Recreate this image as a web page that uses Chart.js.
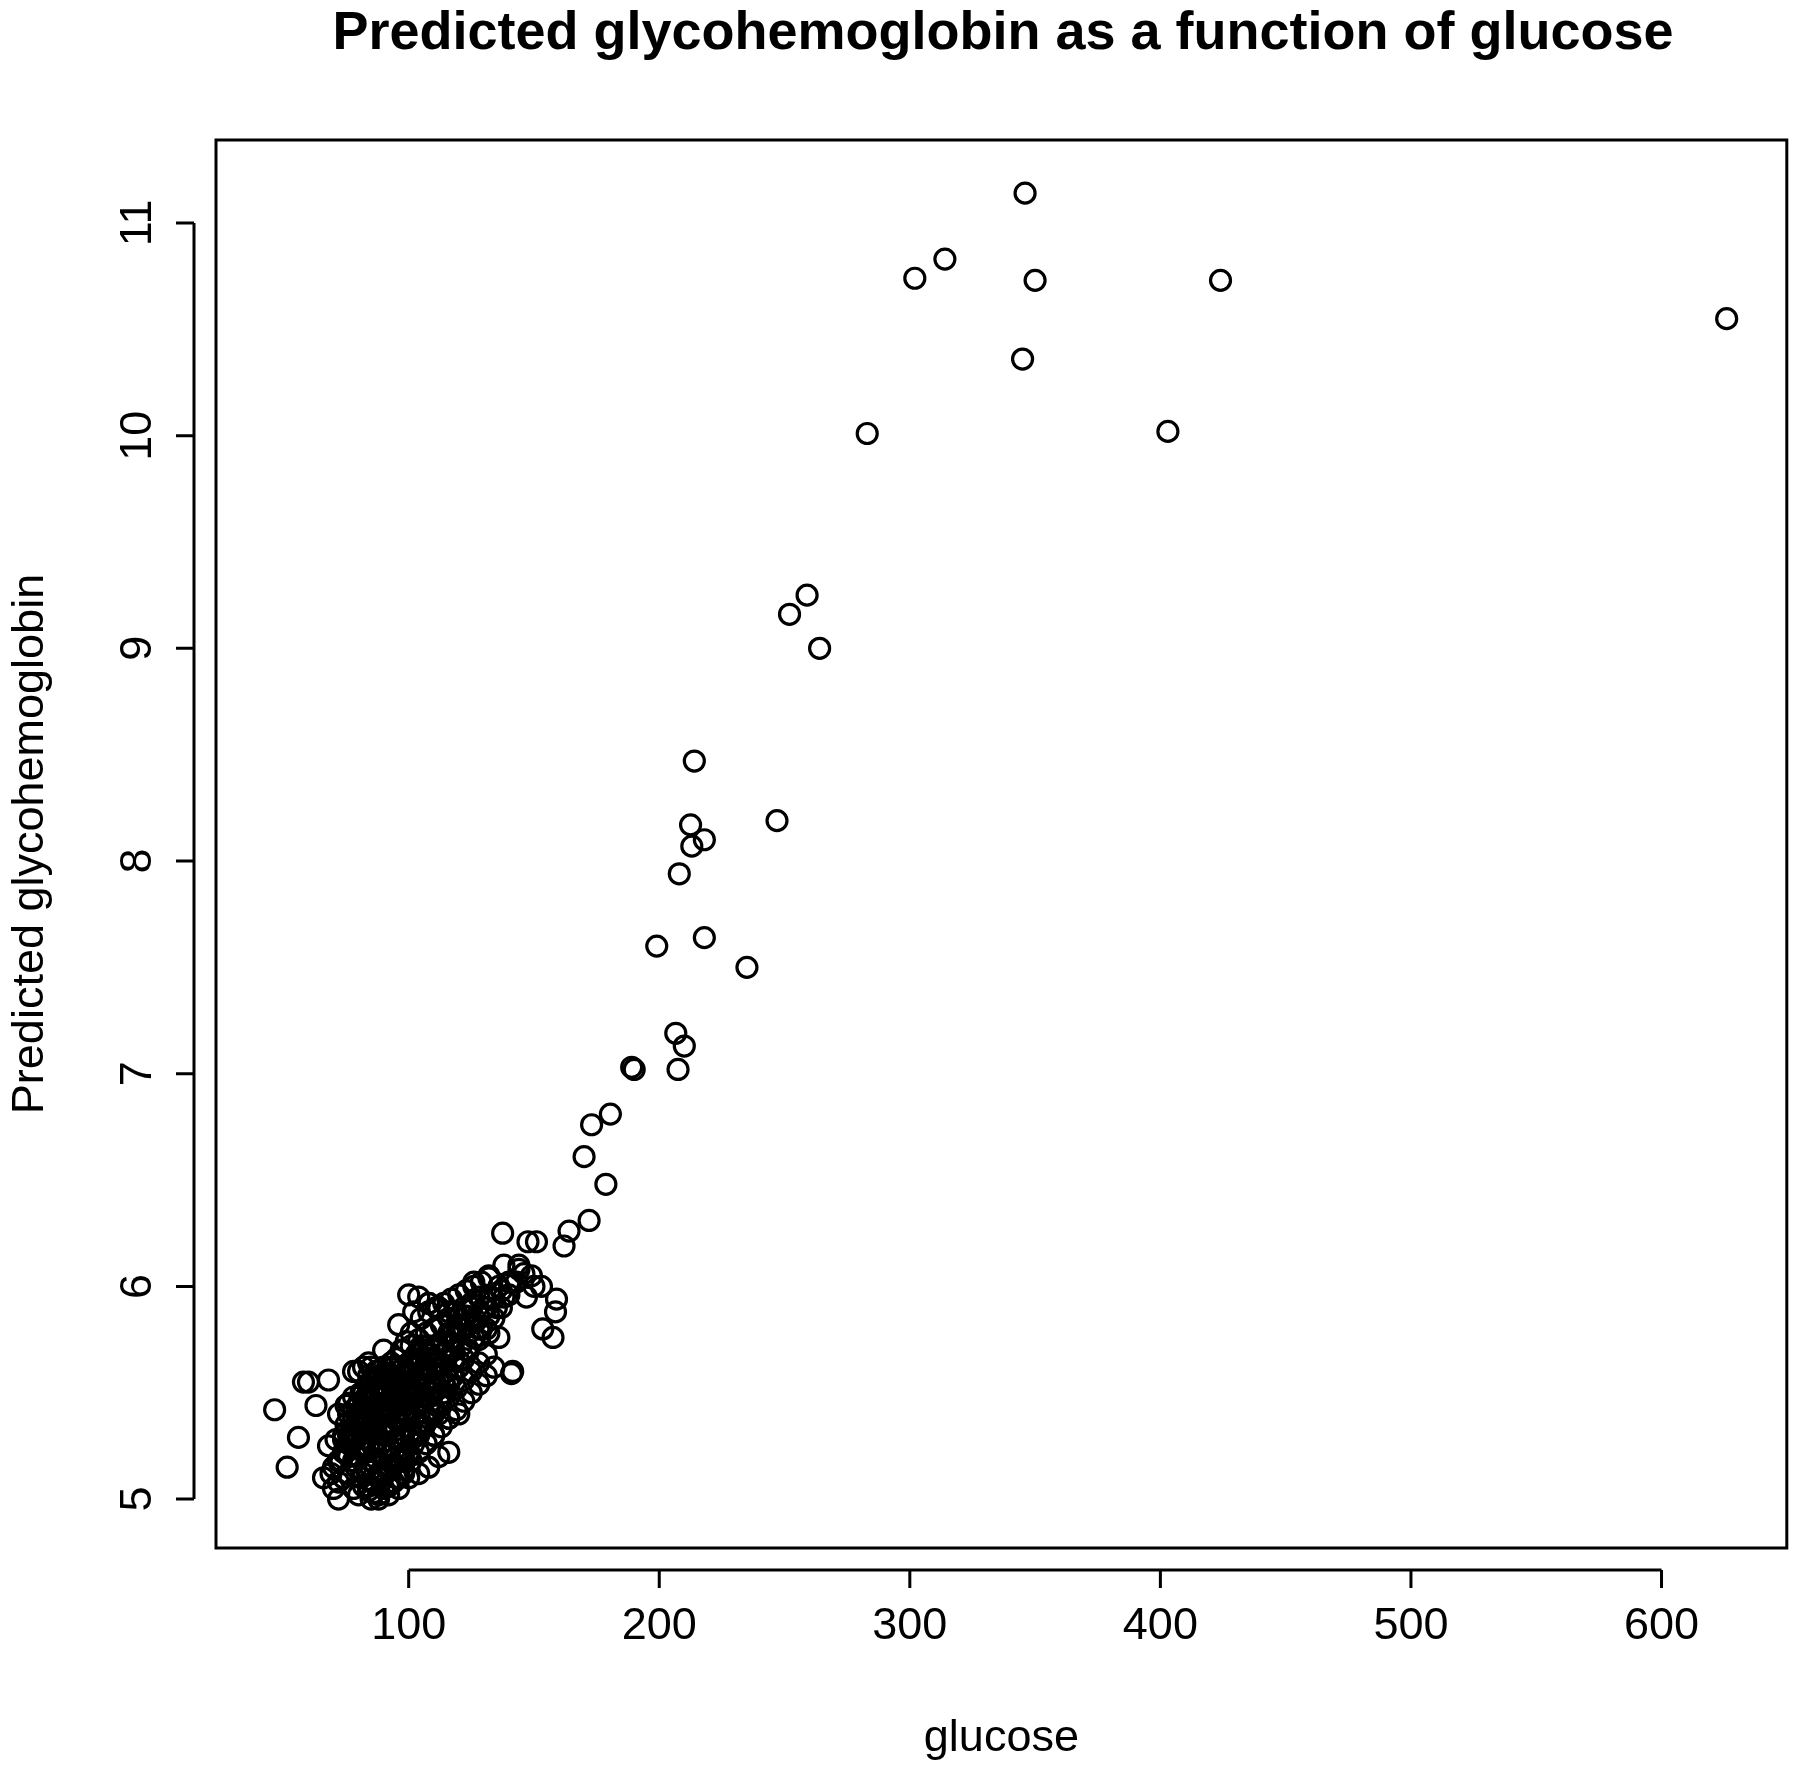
<!DOCTYPE html>
<html><head><meta charset="utf-8">
<script src="https://cdn.jsdelivr.net/npm/chart.js@4"></script>
<style>html,body{margin:0;padding:0;background:#fff}#w{width:1800px;height:1777px}</style>
</head><body><div id="w"><canvas id="c" width="1800" height="1777"></canvas></div>
<script>
const xTicks=[100,200,300,400,500,600];
const yTicks=[5,6,7,8,9,10,11];
const outlierX=[346,314,302,350,424,626,345,283,403,259,252,264,214,247,212.5,218,213,208,199,218,235,206.6,210,207.5,189,190,180.5,173,170,178.7,172,164,162,137.5,147.6,151,159,158.6,157.6,153.5,141,141.5,46.5,51.5,58,56,72,60,63,68];
const outlierY=[11.14,10.83,10.74,10.73,10.73,10.55,10.36,10.01,10.02,9.25,9.16,9.0,8.47,8.19,8.17,8.10,8.07,7.94,7.60,7.64,7.50,7.19,7.13,7.02,7.03,7.02,6.81,6.76,6.61,6.48,6.31,6.26,6.19,6.25,6.21,6.21,5.94,5.88,5.76,5.80,5.59,5.60,5.42,5.15,5.55,5.29,5.0,5.55,5.44,5.56];
const clusterX=[70,72,74,76,78,80,82,84,86,88,90,92,94,96,98,
70,73,76,79,82,85,88,91,94,97,100,
68,71,74,77,80,83,86,89,92,95,98,101,104,
75,78,81,84,87,90,93,96,99,102,105,108,
80,83,86,89,92,95,98,101,104,107,110,113,
85,88,91,94,97,100,103,106,109,112,115,118,
90,93,96,99,102,105,108,111,114,117,120,123,
98,101,104,107,110,113,116,119,122,125,128,
105,108,111,114,117,120,123,126,129,132,
112,115,118,121,124,127,130,133,136,
120,123,126,129,132,135,138,141,144,
128,131,134,137,140,143,146,149,
80,84,88,92,96,100,104,108,112,116,120,
76,82,86,90,94,98,102,106,110,
66,69,72,75,78,81,84,87,90,
100,104,108,112,116,120,124,128,132,136,
85,88,92,96,100,104,108,112,116,
147,150,153,144,138,132,126,120,114,108,102,96,90,84,78,
81,83,85,87,89,91,93,95,97,99,101,103,105,107,109,
79,81,83,85,87,89,91,93,95,97,99,101,103,105,
77,79,81,83,85,87,89,91,93,95,97,99,101,
74,77,80,83,86,89,92,95,98,101,104,107,110,113,116,119,122,125,
86,89,92,95,98,101,104,107,110,113,116,119,122,125,128,131,
95,98,101,104,107,110,113,116,119,122,125,128,131,134,
82,85,88,91,94,97,100,103,106,109,
72,75,78,81,84,87,90,93,96,
107,110,113,116,119,122,125,128,131,134,137,140,
78,80,82,84,86,88,90,92,94,96,98,100,102,104,106,108,110,112,114,116,
76,78,80,82,84,86,88,90,92,94,96,98,100,102,104,106,108,
84,86,88,90,92,94,96,98,100,102,104,106,108,110,112,114,116,118,120,122,124,
74,76,78,80,82,84,86,88,90,92,94,96];
const clusterY=[5.05,5.08,5.1,5.12,5.05,5.02,5.06,5.04,5.03,5.02,5.05,5.06,5.08,5.1,5.12,
5.15,5.18,5.2,5.15,5.12,5.14,5.12,5.15,5.16,5.18,5.2,
5.25,5.28,5.3,5.27,5.25,5.22,5.24,5.22,5.25,5.28,5.3,5.32,5.35,
5.35,5.38,5.36,5.33,5.32,5.34,5.36,5.38,5.4,5.42,5.45,5.48,
5.45,5.48,5.46,5.43,5.42,5.44,5.46,5.48,5.5,5.52,5.55,5.58,
5.55,5.58,5.56,5.53,5.52,5.54,5.56,5.58,5.6,5.62,5.66,5.7,
5.62,5.64,5.62,5.6,5.62,5.65,5.68,5.7,5.74,5.78,5.82,5.86,
5.7,5.72,5.75,5.78,5.8,5.82,5.85,5.88,5.9,5.92,5.95,
5.85,5.88,5.9,5.92,5.94,5.96,5.98,6.0,6.02,6.04,
5.55,5.6,5.66,5.72,5.78,5.84,5.9,5.95,6.0,
5.65,5.7,5.76,5.8,5.86,5.9,5.95,6.02,6.08,
5.75,5.8,5.85,5.9,5.96,6.02,6.06,6.05,
5.6,5.58,5.6,5.55,5.5,5.48,5.45,5.42,5.4,5.38,5.4,
5.45,5.5,5.52,5.5,5.45,5.4,5.38,5.34,5.3,
5.1,5.12,5.18,5.22,5.3,5.4,5.5,5.6,5.58,
5.96,5.95,5.92,5.9,5.88,5.85,5.82,5.8,5.78,5.76,
5.0,5.0,5.02,5.05,5.1,5.12,5.15,5.2,5.22,
5.95,6.0,6.0,6.1,6.1,6.05,6.02,5.65,5.55,5.92,5.88,5.82,5.7,5.64,5.6,
5.1,5.14,5.18,5.22,5.26,5.3,5.34,5.38,5.42,5.46,5.5,5.54,5.58,5.62,5.66,
5.2,5.24,5.28,5.32,5.36,5.4,5.44,5.48,5.52,5.56,5.6,5.64,5.68,5.72,
5.3,5.34,5.38,5.42,5.46,5.5,5.54,5.58,5.62,5.66,5.7,5.74,5.78,
5.22,5.26,5.3,5.34,5.38,5.42,5.46,5.5,5.54,5.58,5.62,5.66,5.7,5.74,5.78,5.82,5.86,5.9,
5.08,5.12,5.16,5.2,5.24,5.28,5.32,5.36,5.4,5.44,5.48,5.52,5.56,5.6,5.64,5.68,
5.1,5.14,5.18,5.22,5.26,5.3,5.34,5.38,5.42,5.46,5.5,5.54,5.58,5.62,
5.62,5.62,5.6,5.58,5.56,5.54,5.52,5.5,5.48,5.46,
5.4,5.44,5.48,5.5,5.52,5.5,5.48,5.46,5.44,
5.62,5.64,5.68,5.72,5.76,5.8,5.84,5.86,5.9,5.94,5.98,6.02,
5.18,5.2,5.22,5.24,5.26,5.28,5.3,5.32,5.34,5.36,5.38,5.4,5.42,5.44,5.46,5.48,5.5,5.52,5.54,5.56,
5.4,5.42,5.44,5.46,5.48,5.5,5.52,5.54,5.56,5.58,5.6,5.62,5.64,5.66,5.68,5.7,5.72,
5.06,5.08,5.1,5.12,5.14,5.16,5.18,5.2,5.22,5.26,5.3,5.34,5.38,5.42,5.46,5.5,5.54,5.58,5.62,5.66,5.7,
5.28,5.3,5.32,5.34,5.36,5.38,5.4,5.42,5.44,5.46,5.48,5.5];
const pts=[];
clusterX.forEach((x,i)=>pts.push({x,y:clusterY[i]}));
outlierX.forEach((x,i)=>pts.push({x,y:outlierY[i]}));
const F='"Liberation Sans", Arial, sans-serif';
const axesPlugin={id:'rAxes',afterDraw(ch){
 const c=ch.ctx,a=ch.chartArea,xs=ch.scales.x,ys=ch.scales.y;
 c.save();c.strokeStyle='#000';c.lineWidth=3;c.fillStyle='#000';
 c.strokeRect(a.left,a.top,a.right-a.left,a.bottom-a.top);
 c.font='45px '+F;c.textAlign='center';c.textBaseline='top';
 const x0=xs.getPixelForValue(xTicks[0]),x1=xs.getPixelForValue(xTicks[xTicks.length-1]);
 c.beginPath();c.moveTo(x0,a.bottom+22);c.lineTo(x1,a.bottom+22);
 xTicks.forEach(t=>{const p=xs.getPixelForValue(t);c.moveTo(p,a.bottom+22);c.lineTo(p,a.bottom+40);});
 c.stroke();
 xTicks.forEach(t=>c.fillText(String(t),xs.getPixelForValue(t),a.bottom+56));
 const y0=ys.getPixelForValue(yTicks[0]),y1=ys.getPixelForValue(yTicks[yTicks.length-1]);
 c.beginPath();c.moveTo(a.left-22,y0);c.lineTo(a.left-22,y1);
 yTicks.forEach(t=>{const p=ys.getPixelForValue(t);c.moveTo(a.left-22,p);c.lineTo(a.left-40,p);});
 c.stroke();
 yTicks.forEach(t=>{const p=ys.getPixelForValue(t);c.save();c.translate(a.left-100,p);c.rotate(-Math.PI/2);c.textBaseline='top';c.fillText(String(t),0,0);c.restore();});
 c.fillText('glucose',(a.left+a.right)/2,1716);
 c.save();c.translate(8,(a.top+a.bottom)/2);c.rotate(-Math.PI/2);c.textBaseline='top';c.fillText('Predicted glycohemoglobin',0,0);c.restore();
 c.font='bold 54px '+F;c.textBaseline='middle';c.fillText('Predicted glycohemoglobin as a function of glucose',1003,34);
 c.restore();}};
new Chart(document.getElementById('c'),{type:'scatter',
 data:{datasets:[{data:pts,pointStyle:'circle',pointRadius:10,pointBorderWidth:3.2,borderColor:'#000',backgroundColor:'rgba(0,0,0,0)'}]},
 options:{responsive:false,animation:false,events:[],
  layout:{padding:{left:216,right:11,top:140,bottom:229}},
  plugins:{legend:{display:false},tooltip:{enabled:false}},
  scales:{x:{type:'linear',display:false,min:23.1,max:650},y:{type:'linear',display:false,min:4.77,max:11.39}}},
 plugins:[axesPlugin]});
</script></body></html>
